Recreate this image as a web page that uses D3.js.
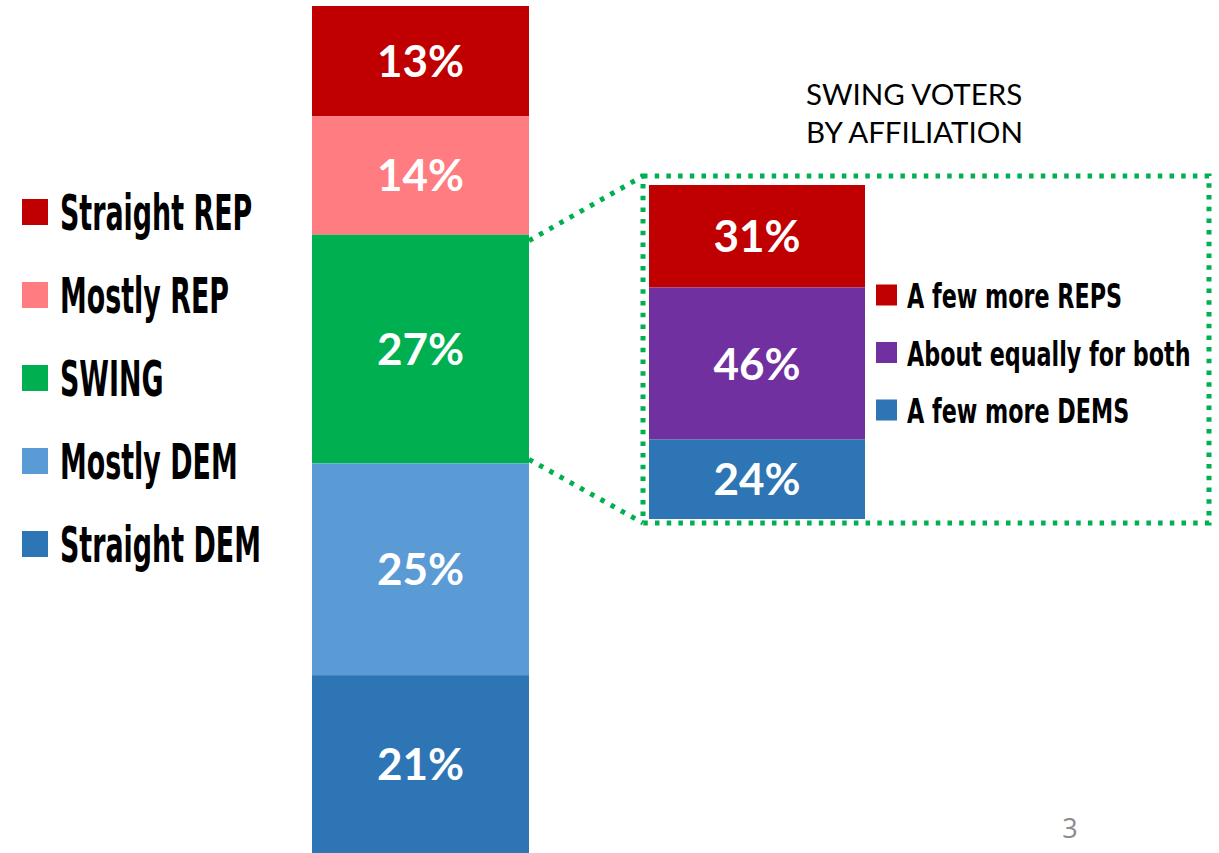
<!DOCTYPE html>
<html>
<head>
<meta charset="utf-8">
<script src="https://cdn.jsdelivr.net/npm/d3@7"></script>
<style>
  body { margin: 0; background: #fff; }
  svg { display: block; }
</style>
</head>
<body>
<div class="chart"></div>
<script>
// main bar: share of voters by straight / mostly / swing
let groups = ['Straight REP', 'Mostly REP', 'SWING', 'Mostly DEM', 'Straight DEM'];
let groupValues = [13, 14, 27, 25, 21];
let groupColors = ['#C00000', '#FF7C80', '#00B050', '#5B9BD5', '#2E75B6'];

// breakdown of the swing slice
let swingTitle = ['SWING VOTERS', 'BY AFFILIATION'];
let swingGroups = ['A few more REPS', 'About equally for both', 'A few more DEMS'];
let swingValues = [31, 46, 24];
let swingColors = ['#C00000', '#7030A0', '#2E75B6'];

let pageNumber = '3';

let width = 1219, height = 853;
let labelFont = "Lato, 'Open Sans', sans-serif";
let legendFont = "'Liberation Sans Narrow', 'DejaVu Sans Condensed', 'Roboto', sans-serif";

let svg = d3.select('.chart')
    .append('svg')
    .attr('width', width)
    .attr('height', height);

// stack helper: turn values into [start, end] pairs
function stack(values) {
    let acc = 0;
    return values.map(v => { let s = acc; acc += v; return { v: v, y0: s, y1: acc }; });
}

// ---- main stacked bar
let mainRows = stack(groupValues);
let yMain = d3.scaleLinear().domain([0, d3.sum(groupValues)]).range([6, 853]);
let xMain = d3.scaleBand().domain(['all']).range([312, 529]).padding(0);

let mainG = svg.append('g');
mainG.selectAll('rect')
    .data(mainRows)
    .enter()
    .append('rect')
    .attr('x', xMain('all'))
    .attr('width', xMain.bandwidth())
    .attr('y', d => yMain(d.y0))
    .attr('height', d => yMain(d.y1) - yMain(d.y0))
    .style('fill', (d, i) => groupColors[i]);

mainG.selectAll('text')
    .data(mainRows)
    .enter()
    .append('text')
    .attr('x', xMain('all') + xMain.bandwidth() / 2)
    .attr('y', d => (yMain(d.y0) + yMain(d.y1)) / 2 + 16)
    .style('text-anchor', 'middle')
    .style('font-family', labelFont)
    .style('font-weight', 'bold')
    .style('font-size', '44px')
    .style('fill', '#fff')
    .text(d => d.v + '%');

// ---- left legend
let legendY = d3.scalePoint().domain(groups).range([212, 544]);
let legend = svg.append('g');
let items = legend.selectAll('g')
    .data(groups)
    .enter()
    .append('g')
    .attr('transform', d => 'translate(22,' + legendY(d) + ')');
items.append('rect')
    .attr('x', 0).attr('y', -13)
    .attr('width', 26).attr('height', 26)
    .style('fill', (d, i) => groupColors[i]);
items.append('text')
    .attr('transform', 'translate(38,18) scale(0.61,1)')
    .style('font-family', legendFont)
    .style('font-weight', 'bold')
    .style('font-size', '49px')
    .style('fill', '#000')
    .text(d => d);

// ---- swing breakdown bar
let swingRows = stack(swingValues);
let ySwing = d3.scaleLinear().domain([0, d3.sum(swingValues)]).range([185, 519]);
let xSwing = d3.scaleBand().domain(['swing']).range([649, 865]).padding(0);

let swingG = svg.append('g');
swingG.selectAll('rect')
    .data(swingRows)
    .enter()
    .append('rect')
    .attr('x', xSwing('swing'))
    .attr('width', xSwing.bandwidth())
    .attr('y', d => ySwing(d.y0))
    .attr('height', d => ySwing(d.y1) - ySwing(d.y0))
    .style('fill', (d, i) => swingColors[i]);

swingG.selectAll('text')
    .data(swingRows)
    .enter()
    .append('text')
    .attr('x', xSwing('swing') + xSwing.bandwidth() / 2)
    .attr('y', d => (ySwing(d.y0) + ySwing(d.y1)) / 2 + 16)
    .style('text-anchor', 'middle')
    .style('font-family', labelFont)
    .style('font-weight', 'bold')
    .style('font-size', '44px')
    .style('fill', '#fff')
    .text(d => d.v + '%');

// right legend
let swingLegendY = d3.scalePoint().domain(swingGroups).range([295, 410]);
let sItems = svg.append('g').selectAll('g')
    .data(swingGroups)
    .enter()
    .append('g')
    .attr('transform', d => 'translate(876,' + swingLegendY(d) + ')');
sItems.append('rect')
    .attr('x', 0).attr('y', -10.5)
    .attr('width', 21).attr('height', 21)
    .style('fill', (d, i) => swingColors[i]);
sItems.append('text')
    .attr('transform', 'translate(31,13) scale(0.75,1)')
    .style('font-family', legendFont)
    .style('font-weight', 'bold')
    .style('font-size', '33px')
    .style('fill', '#000')
    .text(d => d);

// title above the breakdown
svg.append('g').selectAll('text')
    .data(swingTitle)
    .enter()
    .append('text')
    .attr('x', 806)
    .attr('y', (d, i) => 105 + i * 38)
    .style('font-family', labelFont)
    .style('font-size', '29.5px')
    .style('fill', '#000')
    .text(d => d);

// dotted call-out box and connectors
let dotted = svg.append('g')
    .style('fill', 'none')
    .style('stroke', '#00B050')
    .style('stroke-width', 5)
    .style('stroke-dasharray', '4.5 7.2');
dotted.append('rect')
    .attr('x', 643).attr('y', 176)
    .attr('width', 1209 - 643).attr('height', 523 - 176);
dotted.append('line')
    .attr('x1', 529).attr('y1', yMain(mainRows[2].y0) + 6)
    .attr('x2', 643).attr('y2', 176);
dotted.append('line')
    .attr('x1', 529).attr('y1', yMain(mainRows[2].y1) - 4)
    .attr('x2', 643).attr('y2', 523);

// slide number
svg.append('text')
    .attr('x', 1070)
    .attr('y', 838)
    .style('text-anchor', 'middle')
    .style('font-family', "'Open Sans', sans-serif")
    .style('font-size', '27px')
    .style('fill', '#8c8c8c')
    .text(pageNumber);
</script>
</body>
</html>
